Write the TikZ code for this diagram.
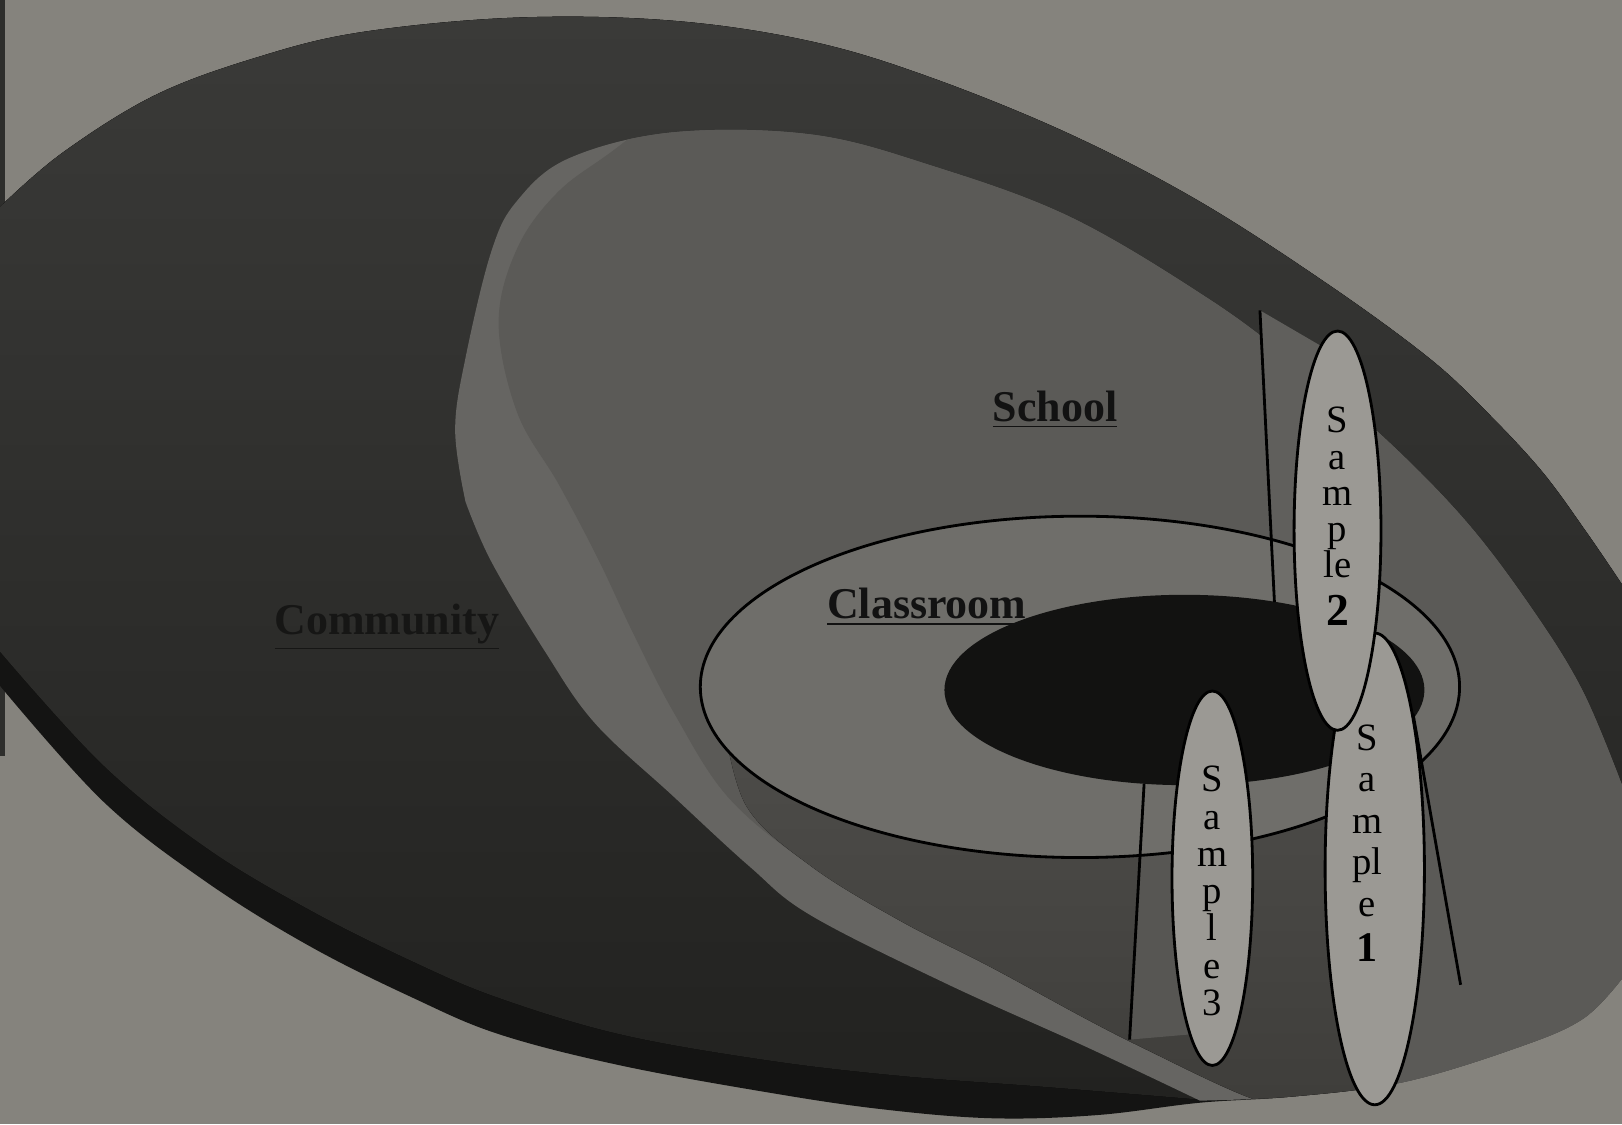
\documentclass[tikz,border=0pt]{standalone}
\usepackage{fontspec}
\setmainfont{Liberation Serif}
\definecolor{bgc}{HTML}{85837D}
\definecolor{stripc}{HTML}{2E2E2C}
\definecolor{bandc}{HTML}{141413}
\definecolor{commtop}{HTML}{3A3A38}
\definecolor{commbot}{HTML}{222220}
\definecolor{schband}{HTML}{666562}
\definecolor{schface}{HTML}{5B5A57}
\definecolor{lowtop}{HTML}{4E4D4A}
\definecolor{lowbot}{HTML}{3E3D3A}
\definecolor{cylctwo}{HTML}{605F5C}
\definecolor{cylcthree}{HTML}{575653}
\definecolor{ringc}{HTML}{6F6E6A}
\definecolor{holec}{HTML}{121211}
\definecolor{samplec}{HTML}{9B9994}
\definecolor{labelc}{HTML}{121212}
\definecolor{commtext}{HTML}{161615}
\begin{document}
\begin{tikzpicture}[x=0.10344mm,y=-0.10344mm,
  sampleell/.style={draw=black, line width=0.8pt, fill=samplec},
  cylline/.style={draw=black, line width=0.8pt},
  lbl/.style={font=\fontsize{12.5}{14}\selectfont\bfseries, text=labelc, inner sep=0pt},
  samplelbl/.style={align=center, inner sep=0pt, text=black}]
\useasboundingbox (0,0) rectangle (1568,1087);
\fill[bgc] (0,0) rectangle (1568,1087);
\fill[stripc] (0,0) rectangle (5,731);
% Community disk: side band (silhouette)
\fill[bandc] plot[smooth,tension=0.6] coordinates {(0,200) (60,148) (150,92) (250,55) (350,31) (500,17) (650,20) (784,40) (900,75) (1035,130) (1160,195) (1284,275) (1380,345) (1434,395) (1490,455) (1534,515) (1568,565)}
  -- (1568,946)
  -- plot[smooth,tension=0.6] coordinates {(1568,946) (1530,985) (1466,1013) (1357,1046) (1250,1060) (1160,1066) (1060,1078) (958,1081) (850,1072) (742,1056) (600,1030) (483,1000) (400,965) (300,915) (200,853) (100,775) (0,663)}
  -- cycle;
% Community face
\fill[top color=commtop, bottom color=commbot] plot[smooth,tension=0.6] coordinates {(0,200) (60,148) (150,92) (250,55) (350,31) (500,17) (650,20) (784,40) (900,75) (1035,130) (1160,195) (1284,275) (1380,345) (1434,395) (1490,455) (1534,515) (1568,565)}
  -- (1568,780) -- (1300,1000)
  -- plot[smooth,tension=0.6] coordinates {(1160,1063) (1100,1058) (1001,1050) (870,1040) (742,1025) (600,1000) (483,965) (400,930) (300,880) (200,820) (100,740) (0,630)}
  -- cycle;
% School disk
\begin{scope}
\clip plot[smooth,tension=0.6] coordinates {(450,485) (440,416) (450,346) (475,243) (500,194) (550,153) (650,128) (784,130) (900,160) (1035,210) (1170,290) (1257,355) (1340,425) (1418,505) (1482,590) (1530,668) (1568,759)}
  -- (1568,946)
  -- plot[smooth,tension=0.6] coordinates {(1568,946) (1530,985) (1466,1013) (1357,1046) (1250,1060) (1160,1064)}
  -- plot[smooth,tension=0.6] coordinates {(1160,1064) (1050,1012) (915,951) (784,885) (725,838) (650,769) (575,699) (527,630) (475,543) (450,485)}
  -- cycle;
\fill[schband] (0,0) rectangle (1568,1087);
\fill[schface] plot[smooth,tension=0.6] coordinates {(700,60) (600,140) (540,185) (500,240) (482,312) (500,399) (540,468) (578,540) (612,612) (652,690) (705,772) (785,838) (870,890) (958,935) (1050,985) (1109,1015) (1200,1058) (1280,1085)}
  -- (1700,1100) -- (1700,-50) -- (700,-50) -- cycle;
\fill[top color=lowtop, bottom color=lowbot] plot[smooth,tension=0.6] coordinates {(700,700) (722,780) (785,838) (870,890) (958,935) (1050,985) (1109,1015) (1200,1058) (1280,1085)}
  -- (1330,1085) -- (1330,720) -- (1000,720) -- (730,690) -- cycle;
\end{scope}
% sample cylinder faces
\fill[cylctwo] (1218,300) -- (1278,335) -- (1262,582) -- (1232,582) -- cycle;
\fill[cylcthree] (1106,758) -- (1145,758) -- (1150,1000) -- (1092,1005) -- cycle;
% Classroom and inner hole
\draw[fill=ringc, line width=0.8pt] (1044,664) ellipse [x radius=367, y radius=165];
\fill[holec] (1145,667) ellipse [x radius=232, y radius=92];
% cylinder lines
\coordinate (l2a) at (1218,300); \coordinate (l2b) at (1232,582);
\coordinate (l3a) at (1106,758); \coordinate (l3b) at (1092,1005);
\coordinate (l1a) at (1366,690); \coordinate (l1b) at (1412,952);
\draw[cylline] (l2a) -- (l2b);
\draw[cylline] (l3a) -- (l3b);
\draw[cylline] (l1a) -- (l1b);
% labels
\node[lbl, anchor=base] (school) at (1020,407) {\underline{School}};
\node[lbl, anchor=base] (classroom) at (896,598) {\underline{Classroom}};
\node[lbl, anchor=base, text=commtext] (community) at (374,613) {\underline{Community}};
% samples
\draw[sampleell] (1172,849) ellipse [x radius=39, y radius=181];
\draw[sampleell] (1329,840) ellipse [x radius=48, y radius=228];
\draw[sampleell] (1293,513) ellipse [x radius=42, y radius=193];
\node[samplelbl, anchor=north, font=\fontsize{11}{10.3}\selectfont] (ttwo) at (1293,393) {S\\a\\m\\p\\le\\[1.2mm]{\fontsize{13}{13}\selectfont\bfseries 2}};
\node[samplelbl, anchor=north, font=\fontsize{11}{11.8}\selectfont] (tone) at (1322,700) {S\\a\\m\\pl\\e\\[0.4mm]{\fontsize{12}{12}\selectfont\bfseries 1}};
\node[samplelbl, anchor=north, font=\fontsize{11}{10.6}\selectfont] (tthree) at (1172,740) {S\\a\\m\\p\\l\\e\\3};
\end{tikzpicture}
\end{document}
